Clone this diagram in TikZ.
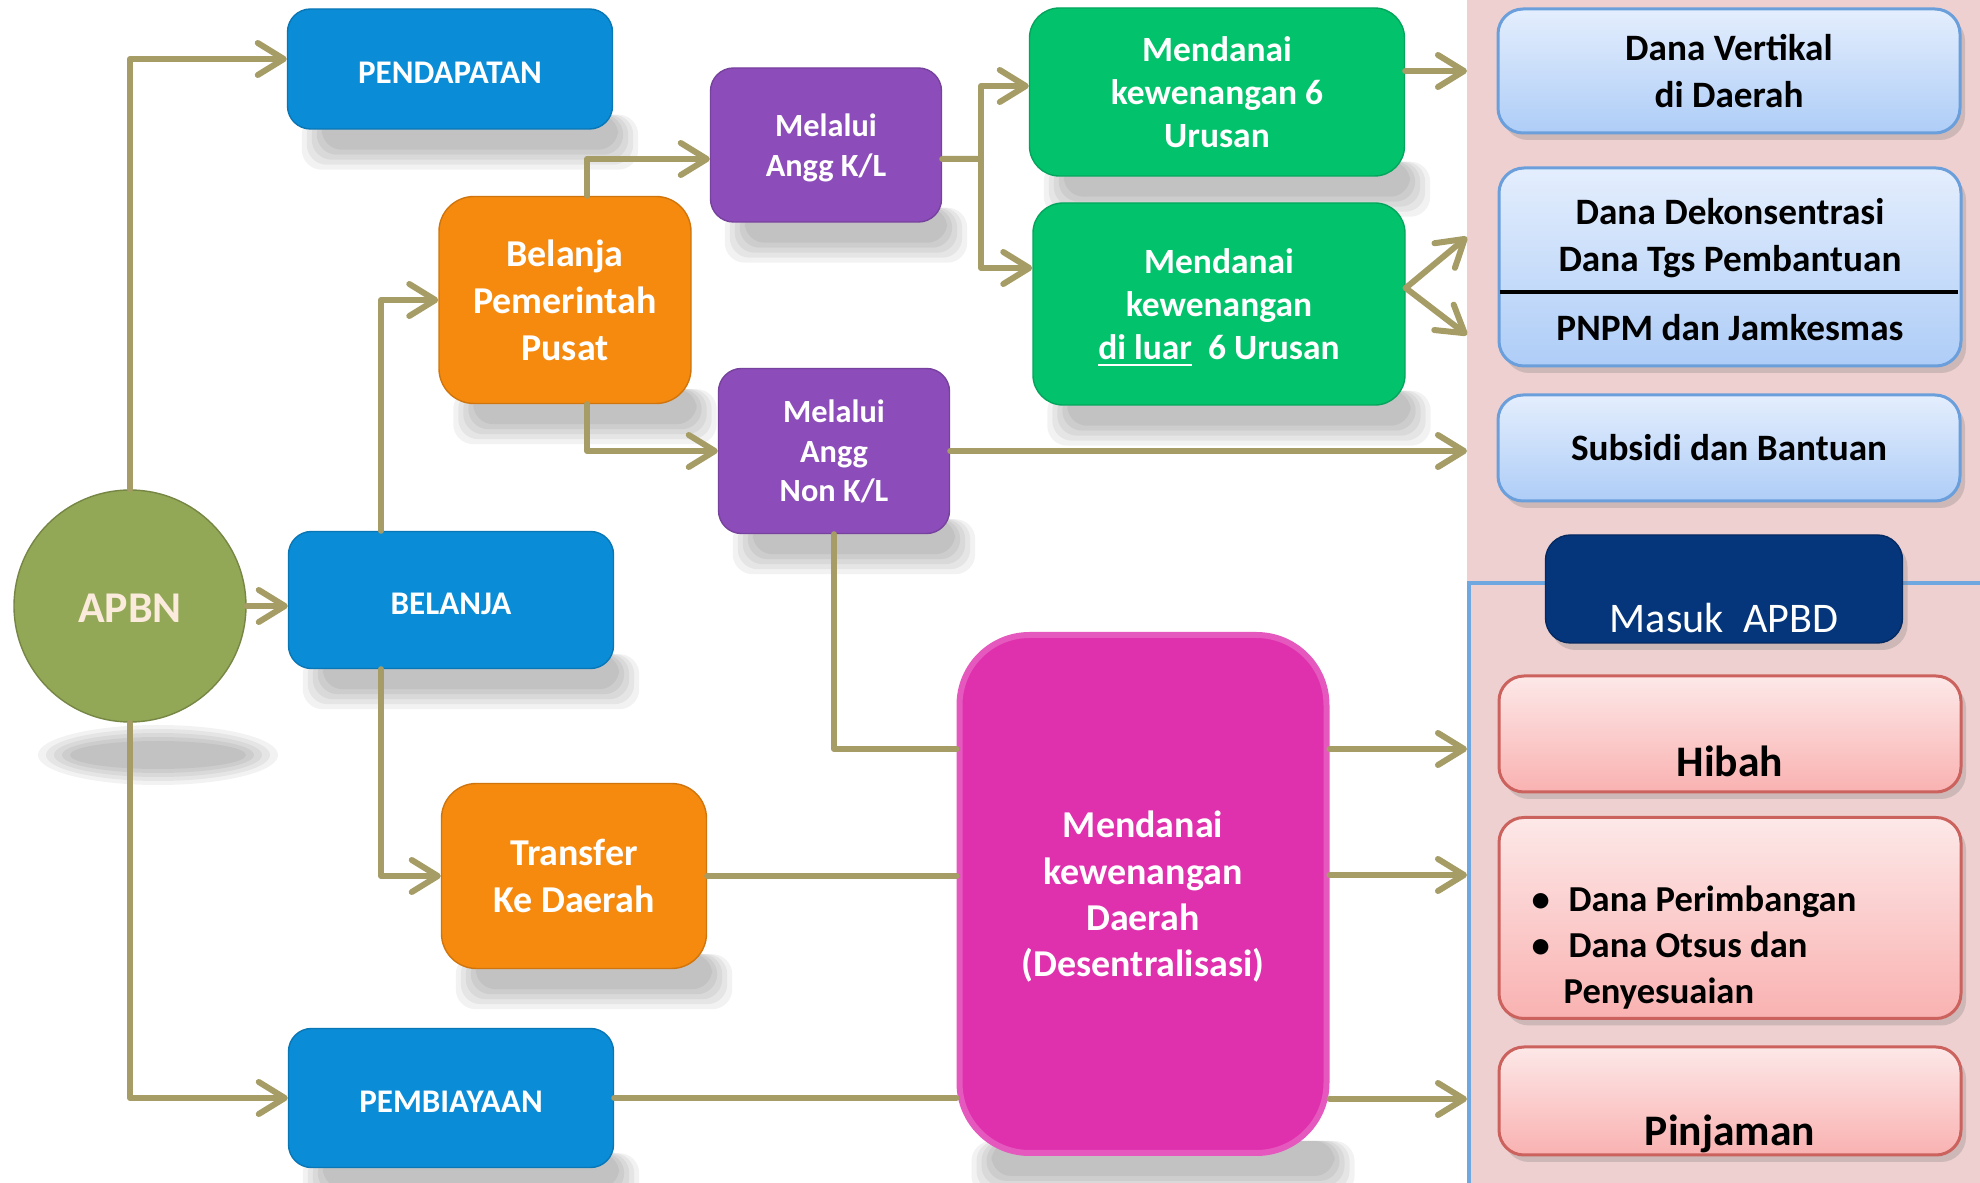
\documentclass[tikz,border=0pt]{standalone}
\usepackage{fontspec}
\setmainfont{Carlito}
\usetikzlibrary{arrows.meta,shadows}

\definecolor{linkcol}{HTML}{A69C66}
\definecolor{apbncol}{HTML}{93A856}
\definecolor{apbntxt}{HTML}{FBEBDC}
\definecolor{bluecol}{HTML}{0B8CD6}
\definecolor{orangecol}{HTML}{F58A0F}
\definecolor{purplecol}{HTML}{8C4DBA}
\definecolor{greencol}{HTML}{03C26C}
\definecolor{magcol}{HTML}{DF30AE}
\definecolor{panelcol}{HTML}{EFD0D0}
\definecolor{ltbluetop}{HTML}{E4EEFD}
\definecolor{ltbluebot}{HTML}{AECDF7}
\definecolor{ltblueedge}{HTML}{6A9FDB}
\definecolor{pinktop}{HTML}{FDE8E8}
\definecolor{pinkbot}{HTML}{F9B2B1}
\definecolor{pinkedge}{HTML}{CC625E}
\definecolor{navycol}{HTML}{05357B}
\definecolor{framecol}{HTML}{6FA8E0}

\pgfdeclarelayer{bg}
\pgfsetlayers{bg,main}

% soft ground shadow under a box
\newcommand{\gshadow}[1]{%
  \foreach \k in {0,...,4}{%
    \fill[black, opacity=0.05, rounded corners=2mm]
      ([xshift=1.5mm+\k*0.5mm, yshift=1.5mm]#1.south west) rectangle
      ([xshift=2.5mm-\k*0.5mm, yshift=-4mm+\k*0.5mm]#1.south east);}}

\tikzset{
  box/.style={rounded corners=2.3mm, inner sep=0pt, align=center, text=white, text depth=0pt},
  bluebx/.style={box, fill=bluecol, draw=bluecol!85!black, minimum width=32.5mm,
    text height=2.9mm, font=\bfseries\fontsize{9.4}{11.5}\selectfont},
  orangebx/.style={box, rounded corners=3.5mm, fill=orangecol, draw=orangecol!85!black,
    font=\bfseries\fontsize{10.8}{13.3}\selectfont},
  purplebx/.style={box, fill=purplecol, draw=purplecol!85!black, minimum width=23.1mm,
    font=\bfseries\fontsize{9.2}{11.2}\selectfont},
  greenbx/.style={box, rounded corners=3mm, fill=greencol, draw=greencol!85!black,
    font=\bfseries\fontsize{10.1}{12.3}\selectfont},
  magbx/.style={box, rounded corners=7mm, fill=magcol, draw=magcol!80!white, line width=0.6mm,
    minimum width=36.7mm, minimum height=51.8mm, font=\bfseries\fontsize{10.8}{13.2}\selectfont},
  panelbx/.style={rounded corners=2.5mm, inner sep=0pt, align=center, minimum width=46.2mm,
    draw=ltblueedge, line width=0.3mm, top color=ltbluetop, bottom color=ltbluebot,
    drop shadow={shadow xshift=0.5mm, shadow yshift=-0.7mm, opacity=0.3},
    font=\bfseries\fontsize{10.6}{13.3}\selectfont},
  pinkbx/.style={panelbx, draw=pinkedge, top color=pinktop, bottom color=pinkbot},
  paneltxt/.style={align=center, inner sep=0pt, font=\bfseries\fontsize{10.6}{13.6}\selectfont},
  bigtxt/.style={inner sep=0pt, font=\bfseries\fontsize{12.4}{15}\selectfont},
  link/.style={draw=linkcol, line width=0.6mm, line cap=round, line join=round},
  arr/.style={link, -{Straight Barb[length=2.6mm, width=3.2mm, round]}},
}

\begin{document}
\begin{tikzpicture}[x=0.1mm, y=-0.1mm]
  \useasboundingbox (0,0) rectangle (1980,1183);
  \begin{pgfonlayer}{bg}
    \fill[white] (0,0) rectangle (1980,1183);
    \fill[panelcol] (1467,0) rectangle (1980,1183);
  \end{pgfonlayer}
  \draw[framecol, line width=0.45mm] (1469,1183) -- (1469,583) -- (1980,583);
  \coordinate (edge) at (1467,0);
  \coordinate (split) at (981,159);
  \coordinate (dk1) at (1467,237);
  \coordinate (dk2) at (1467,335);
  \coordinate (cut) at (0,292);

  % Left side
  \node[circle, fill=apbncol, draw=apbncol!80!black, minimum size=23.2mm, text=apbntxt,
    text height=3.4mm, text depth=0pt, font=\bfseries\fontsize{12.5}{15}\selectfont] (apbn) at (130,606) {APBN};
  \node[bluebx, minimum height=12mm] (pend) at (450,69) {PENDAPATAN};
  \node[bluebx, minimum height=13.7mm] (belanja) at (451,600) {BELANJA};
  \node[bluebx, minimum height=13.9mm] (biaya) at (451,1098) {PEMBIAYAAN};
  \node[orangebx, minimum width=25.2mm, minimum height=20.7mm] (pusat) at (565,300)
    {Belanja\\Pemerintah\\Pusat};
  \node[orangebx, minimum width=26.5mm, minimum height=18.5mm] (transfer) at (574,876)
    {Transfer\\Ke Daerah};
  \node[purplebx, minimum height=15.4mm] (kl) at (826,145) {Melalui\\Angg K/L};
  \node[purplebx, minimum height=16.5mm] (nonkl) at (834,451) {Melalui\\Angg\\Non K/L};
  \node[greenbx, minimum width=37.5mm, minimum height=16.8mm] (urusan) at (1217,92)
    {Mendanai\\kewenangan 6\\Urusan};
  \node[greenbx, minimum width=37.2mm, minimum height=20.2mm] (luar) at (1219,304)
    {Mendanai\\kewenangan\\\underline{di luar}\ \ 6 Urusan};
  \node[magbx] (daerah) at (1143,894) {Mendanai\\kewenangan\\Daerah\\(Desentralisasi)};

  % Right panel
  \node[panelbx, minimum height=12.4mm] (vertikal) at (1729,71) {Dana Vertikal\\di Daerah};
  \node[panelbx, minimum height=19.8mm] (dekon) at (1730,267) {};
  \node[paneltxt] (dekontxt) at (1730,238) {Dana Dekonsentrasi\\Dana Tgs Pembantuan};
  \node[paneltxt] (pnpm) at (1730,328) {PNPM dan Jamkesmas};
  \draw[line width=0.35mm] ([xshift=0.2mm]dekon.west |- cut) -- ([xshift=-0.5mm]dekon.east |- cut);
  \node[panelbx, minimum height=10.6mm] (subsidi) at (1729,448) {Subsidi dan Bantuan};
  \node[rounded corners=2.5mm, fill=navycol, draw=navycol!80!black, minimum width=35.7mm,
    minimum height=10.8mm, drop shadow={shadow xshift=0.5mm, shadow yshift=-0.7mm, opacity=0.3}]
    (masuk) at (1724,589) {};
  \node[inner sep=0pt, text=white, anchor=base, font=\fontsize{12}{14}\selectfont]
    (masuktxt) at (1724,633) {Masuk\ \ APBD};
  \node[pinkbx, minimum height=11.6mm] (hibah) at (1730,734) {};
  \node[bigtxt, anchor=base] (hibahtxt) at (1730,777) {Hibah};
  \node[pinkbx, minimum height=20.1mm] (imbang) at (1730,918) {};
  \node[inner sep=0pt, align=left, anchor=west, font=\bfseries\fontsize{10.4}{13.1}\selectfont]
    (imbangtxt) at (1531,948)
    {\makebox[3.7mm][l]{\textbullet}Dana Perimbangan\\
     \makebox[3.7mm][l]{\textbullet}Dana Otsus dan\\
     \hspace{3.2mm}Penyesuaian};
  \node[pinkbx, minimum height=10.8mm] (pinjam) at (1730,1101) {};
  \node[bigtxt, anchor=base] (pinjamtxt) at (1730,1146) {Pinjaman};

  % Shadows
  \begin{pgfonlayer}{bg}
    \foreach \k in {0,...,4}
      \fill[black, opacity=0.05] (158,755) ellipse ({120-\k*8} and {30-\k*4});
    \foreach \b in {pend,belanja,biaya,pusat,transfer,kl,nonkl,urusan,luar,daerah}
      \gshadow{\b};
  \end{pgfonlayer}

  % Links
  \draw[arr] (apbn.north) |- ([yshift=1mm]pend.west);
  \draw[arr] (apbn.east) -- (apbn.east -| belanja.west);
  \draw[arr] (apbn.south) |- (biaya.west);
  \draw[arr] ([xshift=-7mm]belanja.north) |- (pusat.west);
  \draw[arr] ([xshift=-7mm]belanja.south) |- (transfer.west);
  \draw[arr] ([xshift=2.2mm]pusat.north) |- ([yshift=-1.4mm]kl.west);
  \draw[arr] ([xshift=2.2mm]pusat.south) |- (nonkl.west);
  \draw[link] ([yshift=-1.4mm]kl.east) -- (split);
  \draw[arr] (split) |- ([yshift=0.6mm]urusan.west);
  \draw[arr] (split) |- ([yshift=3.6mm]luar.west);
  \draw[arr] ([yshift=2.1mm]urusan.east) -- ([yshift=2.1mm]urusan.east -| edge);
  \draw[arr] ([yshift=1.6mm]luar.east) -- (dk1);
  \draw[arr] ([yshift=1.6mm]luar.east) -- (dk2);
  \draw[arr] (nonkl.east) -- (nonkl.east -| edge);
  \draw[link] (nonkl.south) |- ([yshift=14.5mm]daerah.west);
  \draw[link] (transfer.east) -- (transfer.east -| daerah.west);
  \draw[link] (biaya.east) -- (biaya.east -| daerah.west);
  \foreach \s in {14.5mm,1.9mm,-20.5mm}
    \draw[arr] ([yshift=\s]daerah.east) -- ([yshift=\s]daerah.east -| edge);
\end{tikzpicture}
\end{document}
